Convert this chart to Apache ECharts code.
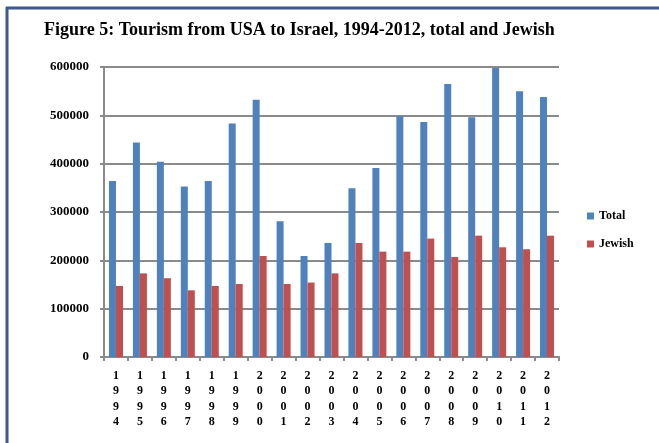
<!DOCTYPE html>
<html>
<head>
<meta charset="utf-8">
<script src="https://cdn.jsdelivr.net/npm/echarts@6/dist/echarts.min.js"></script>
<style>
  html, body { margin: 0; padding: 0; background: #fff; }
  #chart { width: 659px; height: 443px; }
</style>
</head>
<body>
<div id="chart"></div>
<script>
let years = ['1994', '1995', '1996', '1997', '1998', '1999', '2000', '2001', '2002', '2003',
  '2004', '2005', '2006', '2007', '2008', '2009', '2010', '2011', '2012'];
let total = [364000, 444000, 404000, 353000, 364000, 483000, 532000, 281000, 209000, 236000,
  349000, 391000, 498000, 486000, 565000, 496000, 598000, 550000, 538000];
let jewish = [147000, 173000, 163000, 138000, 147000, 151000, 209000, 151000, 154000, 173000,
  236000, 218000, 218000, 245000, 207000, 251000, 227000, 223000, 251000];

let serif = 'Liberation Serif';
let frameColor = '#3d5a8c';

let option = {
  animation: false,
  backgroundColor: '#fff',
  title: {
    text: 'Figure 5: Tourism from USA to Israel, 1994-2012, total and Jewish',
    left: 39,
    top: 16,
    textStyle: { fontFamily: serif, fontWeight: 'bold', fontSize: 18, color: '#000' }
  },
  legend: {
    orient: 'vertical',
    left: 582,
    top: 205,
    itemWidth: 7,
    itemHeight: 7,
    itemGap: 16,
    icon: 'rect',
    textStyle: { fontFamily: serif, fontWeight: 'bold', fontSize: 12, color: '#000' },
    data: ['Total', 'Jewish']
  },
  grid: { left: 104, right: 100, top: 67, bottom: 86 },
  xAxis: {
    type: 'category',
    data: years,
    axisLine: { lineStyle: { color: '#8a8a8a', width: 2 } },
    axisTick: { show: true, length: 4, lineStyle: { color: '#8a8a8a', width: 2 } },
    axisLabel: {
      interval: 0,
      margin: 11,
      fontFamily: serif,
      fontWeight: 'bold',
      fontSize: 12,
      color: '#000',
      lineHeight: 15.5,
      formatter: v => v.split('').join('\n')
    }
  },
  yAxis: {
    type: 'value',
    min: 0,
    max: 600000,
    interval: 100000,
    axisLine: { show: true, lineStyle: { color: '#8a8a8a', width: 2 } },
    axisTick: { show: true, length: 4, lineStyle: { color: '#8a8a8a', width: 2 } },
    splitLine: { lineStyle: { color: '#8a8a8a', width: 2 } },
    axisLabel: {
      margin: 15,
      fontFamily: serif,
      fontWeight: 'bold',
      fontSize: 13,
      color: '#000',
      formatter: v => String(v)
    }
  },
  series: [
    { name: 'Total', type: 'bar', data: total, barWidth: 7, barGap: '0%',
      itemStyle: { color: '#4f81bd' } },
    { name: 'Jewish', type: 'bar', data: jewish, barWidth: 7,
      itemStyle: { color: '#c0504d' } }
  ],
  graphic: [
    { type: 'line', shape: { x1: 6, y1: 8, x2: 659, y2: 8 }, style: { stroke: frameColor, lineWidth: 3 } },
    { type: 'line', shape: { x1: 7, y1: 7, x2: 7, y2: 443 }, style: { stroke: frameColor, lineWidth: 3 } }
  ]
};

let chart = echarts.init(document.getElementById('chart'));
chart.setOption(option);
</script>
</body>
</html>
